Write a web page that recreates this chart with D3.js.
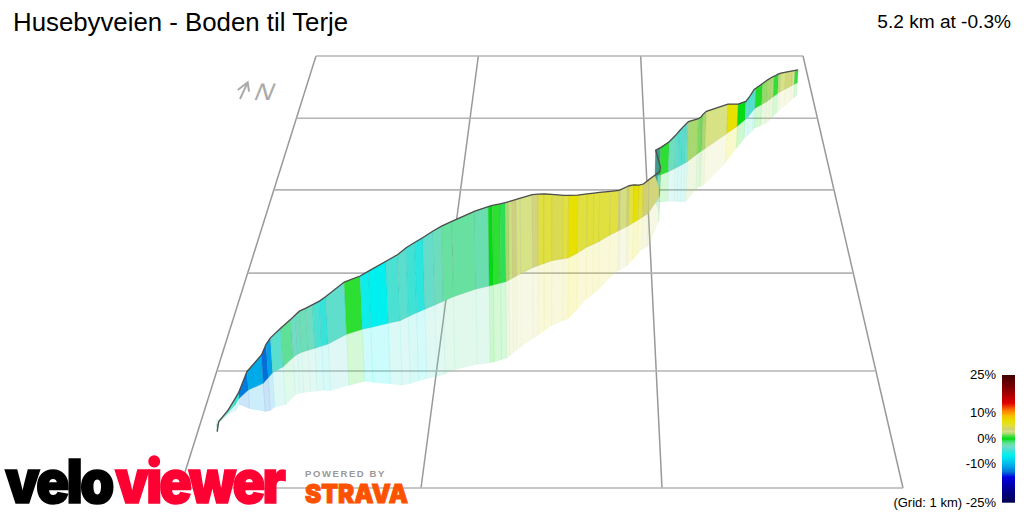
<!DOCTYPE html>
<html><head><meta charset="utf-8">
<style>html,body{margin:0;background:#fff}svg{display:block}text{font-family:"Liberation Sans",Arial,sans-serif}</style>
<script src="https://cdn.jsdelivr.net/npm/d3@7/dist/d3.min.js"></script></head><body>
<svg id="c" width="1024" height="512"></svg>
<script>
// Route stations on the 1 km ground grid, listed from the south-west end.
const stationEast=[0.073,0.079,0.107,0.128,0.138,0.168,0.227,0.242,0.256,0.297,0.332,0.349,0.365,0.393,0.422,0.451,0.479,0.555,0.624,0.662,0.741,0.795,0.831,0.868,0.905,0.950,0.988,1.034,1.140,1.203,
1.222,1.258,1.283,1.299,1.315,1.334,1.353,1.410,1.438,1.466,1.504,1.561,1.586,1.631,1.678,1.712,1.741,1.797,1.840,1.849,1.884,1.893,1.919,1.946,1.969,1.999,2.062,2.067,2.057,2.046,
2.073,2.120,2.157,2.176,2.196,2.215,2.228,2.287,2.304,2.314,2.334,2.466,2.532,2.582,2.604,2.638,2.650,2.693,2.725,2.747,2.769,2.799,2.815,2.848,2.892,2.909,2.929];
const stationNorth=[0.518,0.538,0.624,0.690,0.750,0.825,0.886,0.938,0.985,1.041,1.131,1.160,1.180,1.198,1.218,1.239,1.260,1.356,1.406,1.425,1.466,1.493,1.534,1.575,1.612,1.656,1.695,1.743,1.826,1.858,
1.870,1.890,1.905,1.925,1.946,1.970,1.993,2.061,2.085,2.108,2.139,2.161,2.170,2.226,2.294,2.330,2.362,2.438,2.486,2.497,2.538,2.550,2.586,2.624,2.658,2.702,2.912,2.998,3.103,3.183,
3.196,3.240,3.285,3.308,3.334,3.359,3.376,3.482,3.511,3.529,3.560,3.773,3.882,3.978,4.028,4.120,4.151,4.209,4.253,4.292,4.330,4.383,4.410,4.451,4.507,4.529,4.554];
const stationElev=[-3.2,0.4,1.0,2.7,2.9,8.8,13.5,15.9,16.6,18.5,18.4,19.0,19.8,20.4,21.1,21.8,23.0,25.4,26.0,27.5,30.4,32.4,33.8,34.5,35.3,36.5,37.2,37.4,38.8,39.7,
39.7,39.6,39.6,39.2,38.8,38.4,38.1,37.0,36.2,35.3,33.8,32.4,32.0,29.8,27.5,26.4,25.4,22.8,21.3,21.2,21.1,21.0,20.0,18.2,17.4,18.0,13.5,12.6,12.8,14.2,
15.0,16.4,18.3,19.6,20.7,21.6,22.1,19.6,19.6,20.2,20.7,16.7,12.6,10.5,11.0,12.1,11.6,12.2,12.7,12.5,12.0,11.4,10.9,10.0,8.7,8.2,7.6];
// Gradient (%) of the road between one station and the next.
const stripGrade=[-2,-3.5,-4,-5,-12.5,-10.5,-13,-11,-3.7,-1.8,-3,-2.7,-2.6,-2.8,-4.2,-4.8,-3.5,0.7,-6,-6.5,-4.2,-3.7,-4.5,-5.2,-3.3,-2.7,-2,-2,-2.4,0,
0.7,-0.7,2,2.8,3.8,3,3,3.6,5,5,4.6,5,7,5,5.2,5,5,5,3.8,3.2,3.8,5,7,5,3.8,3.6,
0.2,-3,-3,-3.5,
0.7,-2.8,-3.5,-4,-3.8,-3,2,1.6,1.4,2,3,7,0.1,-3.8,-4,-3.5,0.5,1.8,2,2.1,0.8,2.5,3,3.5,3,0.8];
// Strips that face away from the light where the road doubles back.
const shadedStrips=[58,59];
const gradeStops=[-25,-20,-15,-13,-11,-9,-6.5,-5,-4,-3,-2,-1,0,1,2,3,3.8,5,7,9,11,14,20,25];
const gradeColors=["#000050","#000090","#0000e0","#0070d8","#00a0e8","#00c8ec","#00f0f0","#30e4dc","#50e0d0","#70dcc8","#68e0a0","#40e070","#00dc10","#40e040","#a8d870","#d6e284","#d0d078","#e0e040","#e8e000","#f8c000","#ff8000","#e00000","#800000","#400000"];
const legendTicks=[25,10,0,-10];
const legendBottom=-25;
const gridEast=[0,1,2,3];
const gridNorth=[0,1,2,3,4,5];

const color=d3.scaleLinear(gradeStops,gradeColors).interpolate(d3.interpolateRgb);

// Camera: ground perspective plus a far vanishing point for the vertical.
const vanish=[545,4700];
const eastS=d3.scaleLinear([0,3],[-361.5,361.5]);
const depthS=d3.scaleLinear([0,5],[1,1.4846]);
const elevS=d3.scaleLinear([0,1],[0,5.26e-4]);
function project(e,n,z){
  const w0=depthS(n),E=elevS(z),w=w0-E;
  const x0=596.65+(eastS(e)-55.15)/w0,y0=-835.5+1323.5/w0;
  return [(x0*w0-vanish[0]*E)/w,(y0*w0-vanish[1]*E)/w];
}
const stations=stationEast.map((e,i)=>[e,stationNorth[i],stationElev[i]]);

const svg=d3.select("#c");
const line=d3.line();

// Ground grid
const grid=svg.append("g").attr("fill","none");
grid.selectAll("path.e").data(gridEast).join("path").attr("class","e")
  .attr("d",e=>line([project(e,0,0),project(e,5,0)])).attr("stroke","#999").attr("stroke-width",1.5);
grid.selectAll("path.n").data(gridNorth).join("path").attr("class","n")
  .attr("d",n=>line([project(0,n,0),project(3,n,0)])).attr("stroke","#b4b4b4").attr("stroke-width",1.6);

// Ribbon strips: sign +1 is the wall above the road, -1 its reflection below
const strips=d3.range(stations.length-1);
const stripPath=(i,sign)=>{
  const a=stations[i],b=stations[i+1];
  return line([project(a[0],a[1],sign*a[2]),project(b[0],b[1],sign*b[2]),project(b[0],b[1],0),project(a[0],a[1],0)])+"Z";
};
svg.append("g").selectAll("path").data(strips).join("path")
  .attr("d",i=>stripPath(i,-1))
  .attr("fill",i=>color(stripGrade[i])).attr("fill-opacity",.2)
  .attr("stroke",i=>color(stripGrade[i])).attr("stroke-opacity",.1).attr("stroke-width",.7);
svg.append("g").selectAll("path").data(strips).join("path")
  .attr("d",i=>stripPath(i,1))
  .attr("fill",i=>shadedStrips.includes(i)?d3.color(color(stripGrade[i])).darker(1.1):color(stripGrade[i]))
  .attr("stroke",i=>d3.color(color(stripGrade[i])).darker(.6)).attr("stroke-opacity",.35).attr("stroke-width",.7);
svg.append("path").attr("d",line(stations.map(s=>project(s[0],s[1],s[2]))))
  .attr("fill","none").attr("stroke","#4d4d4d").attr("stroke-width",1.3);

// Headings
svg.append("text").attr("x",13).attr("y",31).attr("font-size",25.8).text("Husebyveien - Boden til Terje");
svg.append("text").attr("x",1011).attr("y",28).attr("font-size",19.1).attr("text-anchor","end").text("5.2 km at -0.3%");

// Gradient legend
const lg=svg.append("defs").append("linearGradient").attr("id","lg").attr("x1",0).attr("x2",0).attr("y1",1).attr("y2",0);
gradeStops.forEach(g=>lg.append("stop").attr("offset",(g+25)/50).attr("stop-color",color(g)));
const ly=d3.scaleLinear([-25,25],[502.7,375]);
svg.append("rect").attr("x",1002).attr("y",ly(25)).attr("width",13).attr("height",ly(-25)-ly(25)).attr("fill","url(#lg)");
legendTicks.forEach(t=>svg.append("text").attr("x",996).attr("y",ly(t)+4).attr("font-size",13).attr("text-anchor","end").text(t+"%"));
svg.append("text").attr("x",996).attr("y",ly(legendBottom)+4).attr("font-size",13).attr("text-anchor","end").text("(Grid: 1 km) "+legendBottom+"%");

// North marker
svg.append("path").attr("d","M240 99L247.7 82.3M237.7 90L247.7 82.3L249 91.7").attr("fill","none").attr("stroke","#aaa").attr("stroke-width",2);
svg.append("text").attr("transform","translate(252.5,100) skewX(-22) scale(1.08,1)").attr("font-size",24).attr("fill","#aaa").text("N");

// Brand marks
const logo=svg.append("g").attr("font-weight",900).attr("font-size",60).attr("letter-spacing",-3.2);
logo.append("text").attr("transform","translate(5,503) scale(.92,1)").attr("fill","#000").attr("stroke","#000").attr("stroke-width",1.6).style("font-family","Inter").text("velo");
logo.append("text").attr("transform","translate(115,503) scale(.9,1)").attr("fill","#f03").attr("stroke","#f03").attr("stroke-width",1.6).style("font-family","Inter").text("viewer");
svg.append("text").attr("x",305).attr("y",477).attr("font-size",9.5).attr("font-weight",700).attr("fill","#999").attr("letter-spacing",1.6).text("POWERED BY");
svg.append("text").attr("x",305).attr("y",503).attr("font-size",26).style("font-family","Inter").attr("font-weight",900).attr("textLength",103).attr("lengthAdjust","spacingAndGlyphs").attr("fill","#fc5200").attr("stroke","#fc5200").attr("stroke-width",1).text("STRAVA");
</script></body></html>
